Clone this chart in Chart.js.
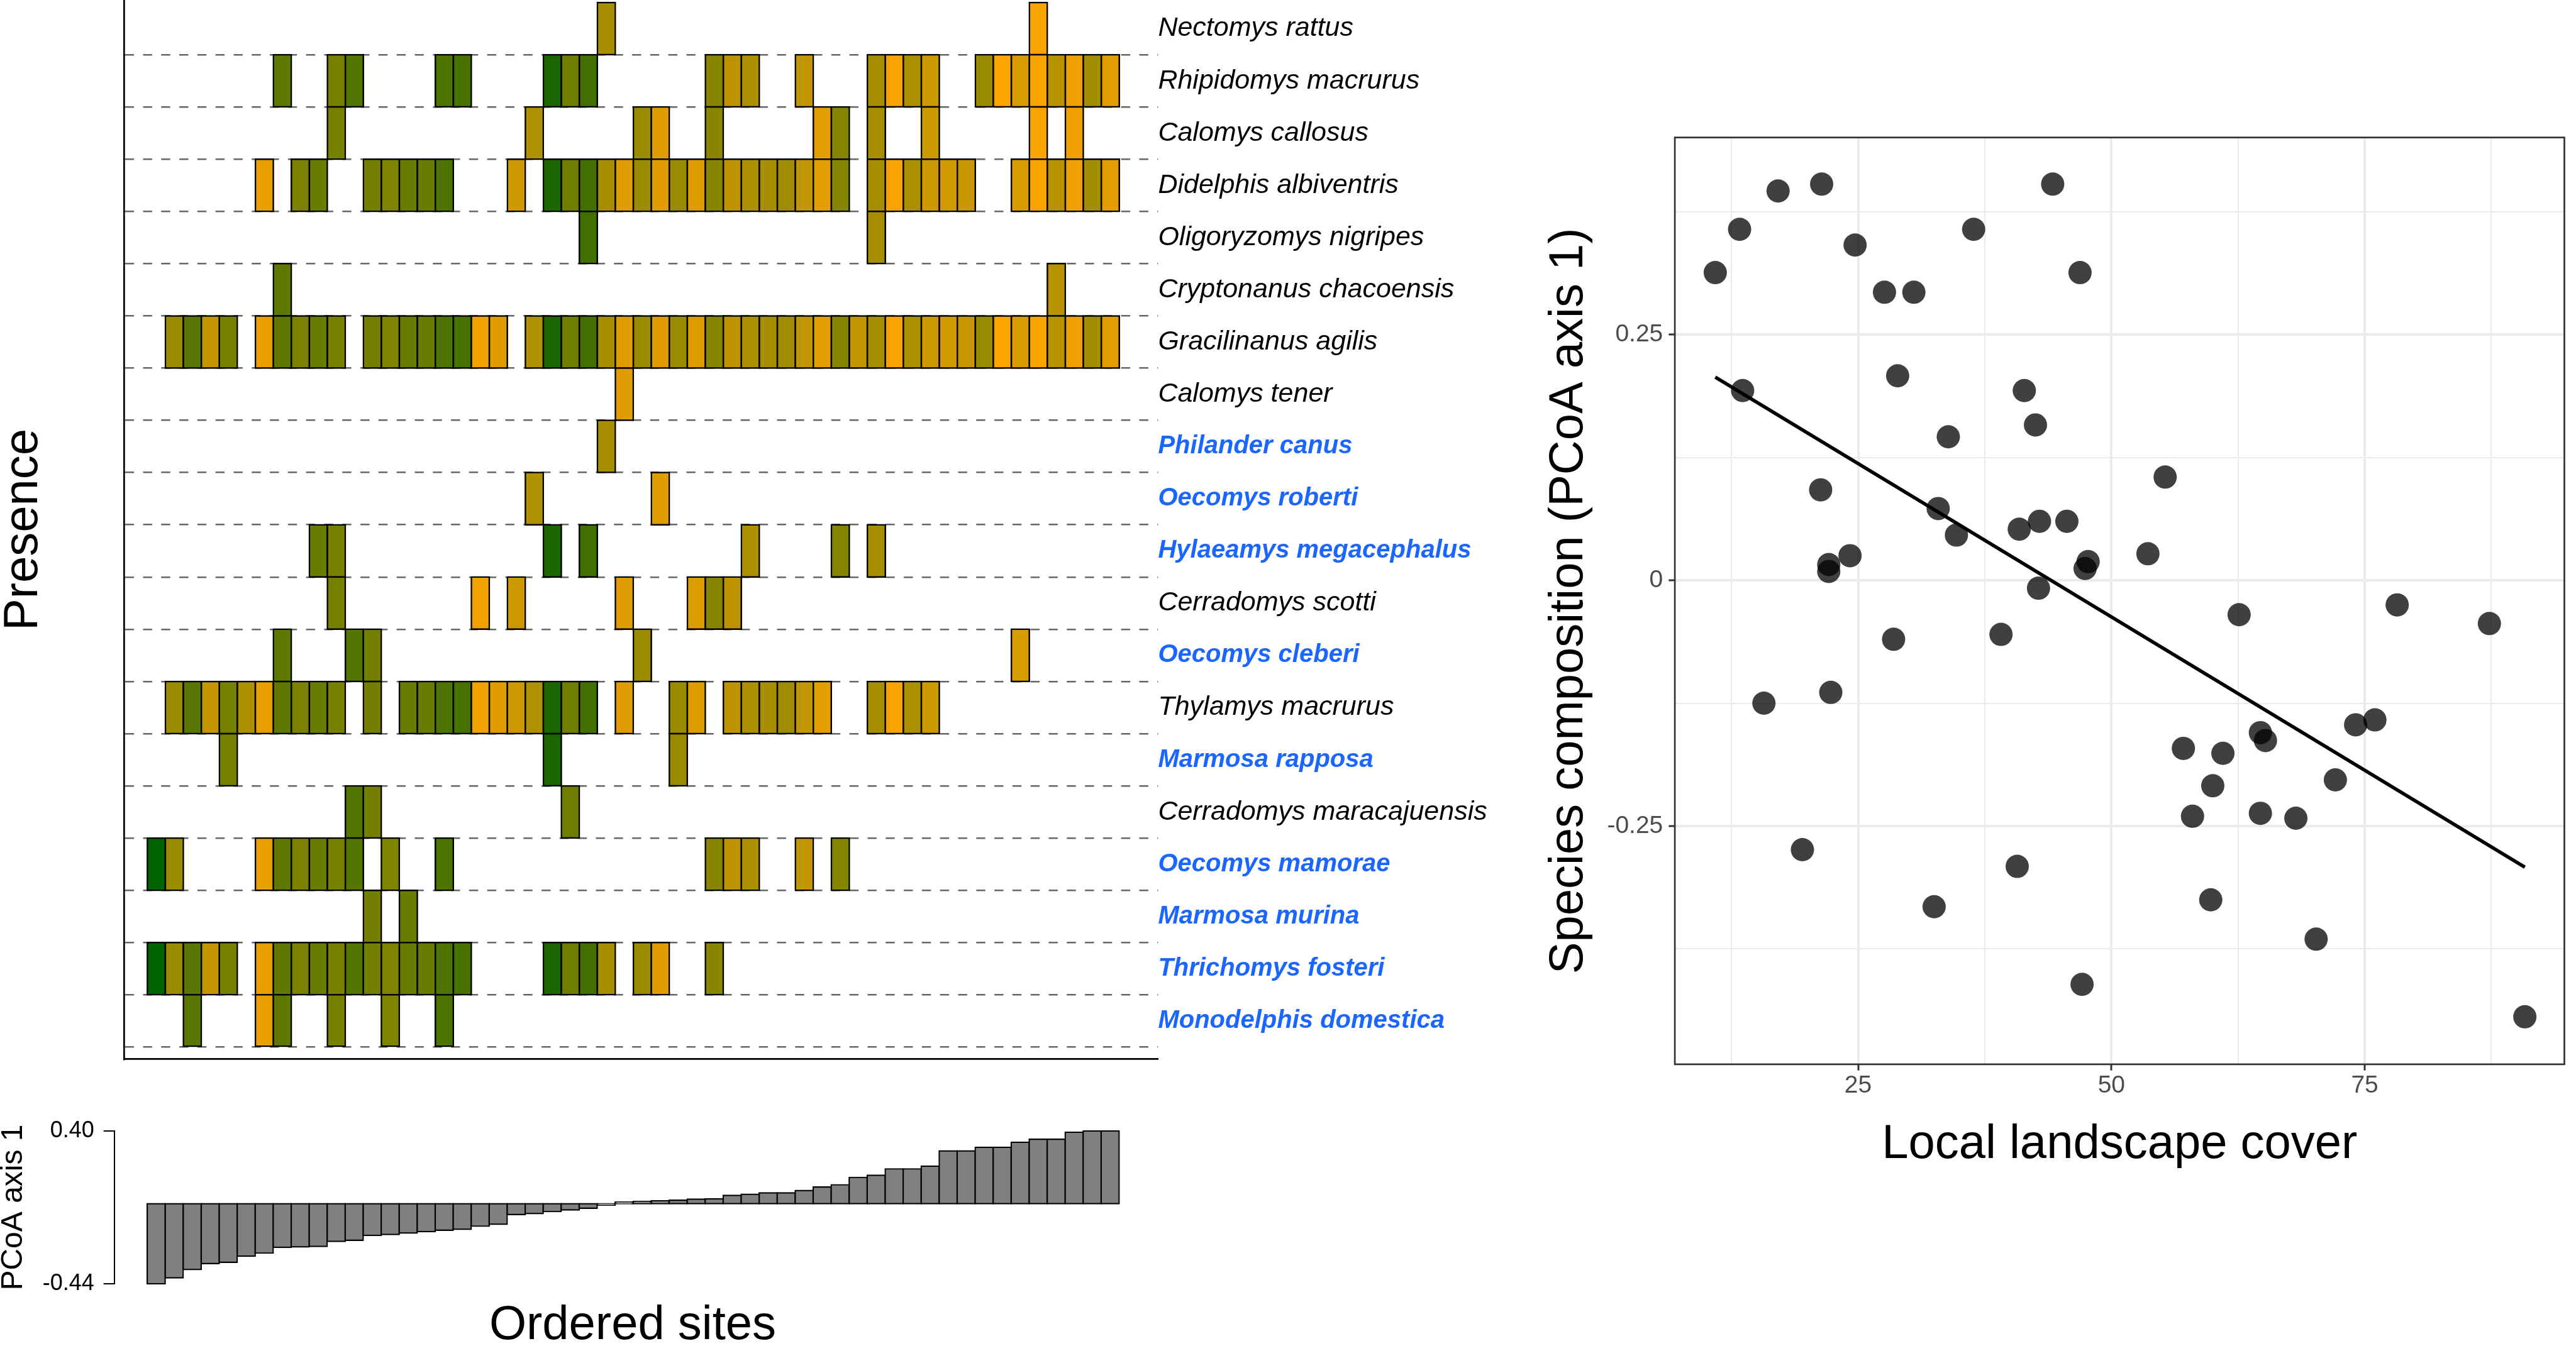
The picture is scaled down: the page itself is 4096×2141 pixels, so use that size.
<!DOCTYPE html>
<html>
<head>
<meta charset="utf-8">
<script src="https://cdn.jsdelivr.net/npm/chart.js@4.4.1/dist/chart.umd.min.js"></script>
<style>
  html, body { margin: 0; padding: 0; background: #fff; overflow: hidden; }
  #wrap { position: relative; width: 4096px; height: 2141px; }
  canvas { position: absolute; }
</style>
</head>
<body>
<div id="wrap">
  <canvas id="matrix" width="2450" height="1700" style="left:0;top:0"></canvas>
  <canvas id="pcoa" width="2000" height="401" style="left:0;top:1740px"></canvas>
  <canvas id="scatter" width="1646" height="2141" style="left:2450px;top:0"></canvas>
</div>
<script>
// species, top to bottom
const species = ["Nectomys rattus", "Rhipidomys macrurus", "Calomys callosus", "Didelphis albiventris",
  "Oligoryzomys nigripes", "Cryptonanus chacoensis", "Gracilinanus agilis", "Calomys tener",
  "Philander canus", "Oecomys roberti", "Hylaeamys megacephalus", "Cerradomys scotti",
  "Oecomys cleberi", "Thylamys macrurus", "Marmosa rapposa", "Cerradomys maracajuensis",
  "Oecomys mamorae", "Marmosa murina", "Thrichomys fosteri", "Monodelphis domestica"];
const highlighted = ["Philander canus", "Oecomys roberti", "Hylaeamys megacephalus", "Oecomys cleberi",
  "Marmosa rapposa", "Oecomys mamorae", "Marmosa murina", "Thrichomys fosteri", "Monodelphis domestica"];

// ordered sites where each species was recorded (same order as species)
const presence = [
  [25, 49],
  [7, 10, 11, 16, 17, 22, 23, 24, 31, 32, 33, 36, 40, 41, 42, 43, 46, 47, 48, 49, 50, 51, 52, 53],
  [10, 21, 27, 28, 31, 37, 38, 40, 43, 49, 51],
  [6, 8, 9, 12, 13, 14, 15, 16, 20, 22, 23, 24, 25, 26, 27, 28, 29, 30, 31, 32, 33, 34, 35, 36, 37, 38,
   40, 41, 42, 43, 44, 45, 48, 49, 50, 51, 52, 53],
  [24, 40],
  [7, 50],
  [1, 2, 3, 4, 6, 7, 8, 9, 10, 12, 13, 14, 15, 16, 17, 18, 19, 21, 22, 23, 24, 25, 26, 27, 28, 29, 30,
   31, 32, 33, 34, 35, 36, 37, 38, 39, 40, 41, 42, 43, 44, 45, 46, 47, 48, 49, 50, 51, 52, 53],
  [26],
  [25],
  [21, 28],
  [9, 10, 22, 24, 33, 38, 40],
  [10, 18, 20, 26, 30, 31, 32],
  [7, 11, 12, 27, 48],
  [1, 2, 3, 4, 5, 6, 7, 8, 9, 10, 12, 14, 15, 16, 17, 18, 19, 20, 21, 22, 23, 24, 26, 29, 30,
   32, 33, 34, 35, 36, 37, 40, 41, 42, 43],
  [4, 22, 29],
  [11, 12, 23],
  [0, 1, 6, 7, 8, 9, 10, 11, 13, 16, 31, 32, 33, 36, 38],
  [12, 14],
  [0, 1, 2, 3, 4, 6, 7, 8, 9, 10, 11, 12, 13, 14, 15, 16, 17, 22, 23, 24, 25, 27, 28, 31],
  [2, 6, 7, 10, 13, 16]
];

// per ordered site: PCoA axis 1 score and local landscape cover (%)
const pcoa = [-0.444, -0.411, -0.365, -0.332, -0.325, -0.291, -0.274, -0.242, -0.240, -0.237,
  -0.209, -0.203, -0.176, -0.171, -0.163, -0.155, -0.147, -0.142, -0.125, -0.114,
  -0.060, -0.055, -0.044, -0.035, -0.025, -0.008, 0.009, 0.012, 0.016, 0.019,
  0.025, 0.027, 0.046, 0.052, 0.060, 0.060, 0.073, 0.092, 0.105, 0.146,
  0.158, 0.193, 0.193, 0.208, 0.293, 0.293, 0.313, 0.313, 0.341, 0.357,
  0.357, 0.396, 0.403, 0.403];
const cover = [90.8, 47.1, 70.2, 32.5, 59.8, 40.7, 19.5, 68.2, 58.0, 64.7,
  60.0, 72.1, 61.0, 57.1, 65.2, 64.7, 74.1, 76.0, 15.7, 22.3,
  28.5, 39.1, 87.3, 62.6, 78.2, 42.8, 22.1, 47.4, 22.1, 47.7,
  24.2, 53.6, 34.7, 40.9, 42.9, 45.6, 32.9, 21.3, 55.3, 33.9,
  42.5, 13.6, 41.4, 28.9, 27.6, 30.5, 46.9, 10.9, 24.7, 13.3,
  36.4, 17.1, 44.2, 21.4];

const coverTicks = [25, 50, 75];
const compTicks = [-0.25, 0, 0.25];

const FONT = "'Liberation Sans', Arial, sans-serif";
const BLUE = "#1a66ff";
Chart.defaults.font.family = FONT;

// colour scale: orange (low cover) -> darkgreen (high cover), interpolated in Lab
function toLin(c) { c /= 255; return c <= 0.04045 ? c / 12.92 : Math.pow((c + 0.055) / 1.055, 2.4); }
function toSrgb(c) { c = c <= 0.0031308 ? 12.92 * c : 1.055 * Math.pow(c, 1 / 2.4) - 0.055; return Math.round(Math.max(0, Math.min(1, c)) * 255); }
function rgbToLab(rgb) {
  const [r, g, b] = rgb.map(toLin);
  const x = (0.4124 * r + 0.3576 * g + 0.1805 * b) / 0.95047;
  const y = 0.2126 * r + 0.7152 * g + 0.0722 * b;
  const z = (0.0193 * r + 0.1192 * g + 0.9505 * b) / 1.08883;
  const f = t => t > 0.008856 ? Math.cbrt(t) : 7.787 * t + 16 / 116;
  return [116 * f(y) - 16, 500 * (f(x) - f(y)), 200 * (f(y) - f(z))];
}
function labToRgb(lab) {
  const fy = (lab[0] + 16) / 116, fx = fy + lab[1] / 500, fz = fy - lab[2] / 200;
  const inv = t => t * t * t > 0.008856 ? t * t * t : (t - 16 / 116) / 7.787;
  const x = inv(fx) * 0.95047, y = inv(fy), z = inv(fz) * 1.08883;
  const r = 3.2406 * x - 1.5372 * y - 0.4986 * z;
  const g = -0.9689 * x + 1.8758 * y + 0.0415 * z;
  const b = 0.0557 * x - 0.2040 * y + 1.0570 * z;
  return "rgb(" + toSrgb(r) + "," + toSrgb(g) + "," + toSrgb(b) + ")";
}
const lowLab = rgbToLab([255, 165, 0]);
const highLab = rgbToLab([0, 100, 0]);
const coverMin = Math.min(...cover), coverMax = Math.max(...cover);
function coverColor(v) {
  const t = (v - coverMin) / (coverMax - coverMin);
  return labToRgb(lowLab.map((l, i) => l + (highLab[i] - l) * t));
}

const nRows = species.length;
const siteCentres = s => { s.ticks = pcoa.map((_, k) => ({ value: k + 0.5 })); };
const rowName = v => species[Math.round(nRows - 0.5 - v)];
const isBlue = ctx => !!ctx.tick && highlighted.includes(rowName(ctx.tick.value));

// ---- presence matrix ----
const cells = [];
presence.forEach((sites, r) => {
  const base = nRows - 1 - r;
  sites.forEach(k => cells.push({ x: k + 0.5, y: [base, base + 1], site: k }));
});

const rowMin = -0.234, rowMax = 20.048;
new Chart(document.getElementById("matrix"), {
  type: "bar",
  data: {
    datasets: [{
      data: cells,
      backgroundColor: ctx => ctx.raw ? coverColor(cover[ctx.raw.site]) : "#888",
      borderColor: "#000",
      borderWidth: 2.5,
      inflateAmount: 1.25,
      borderSkipped: false,
      categoryPercentage: 1,
      barPercentage: 1,
      clip: false
    }]
  },
  options: {
    responsive: false, animation: false, events: [],
    layout: { padding: 0 },
    plugins: { legend: { display: false }, tooltip: { enabled: false } },
    scales: {
      x: {
        type: "linear", min: -0.768, max: 55.62,
        afterBuildTicks: siteCentres,
        ticks: { display: false },
        grid: { display: false },
        border: { display: true, color: "#000", width: 2.7 },
        afterFit: s => { s.height = 15.2; }
      },
      y: {
        type: "linear", position: "left", min: rowMin, max: rowMax,
        afterBuildTicks: s => { s.ticks = species.map((_, i) => ({ value: i })); },
        ticks: { display: false },
        grid: { color: "#666", lineWidth: 2.4, drawTicks: false },
        border: { display: true, color: "#000", width: 2.7, dash: [14.4, 14.4] },
        title: { display: true, text: "Presence", color: "#000", padding: 0,
          font: { family: FONT, size: 76, lineHeight: 1 } },
        afterFit: s => { s.width = 197.1; s.paddingTop = 0; s.paddingBottom = 0; }
      },
      names: {
        type: "linear", position: "right", display: true, min: rowMin, max: rowMax,
        afterBuildTicks: s => { s.ticks = species.map((_, i) => ({ value: nRows - 0.5 - i })); },
        ticks: {
          autoSkip: false, padding: 0,
          callback: v => rowName(v),
          color: ctx => isBlue(ctx) ? BLUE : "#000",
          font: ctx => isBlue(ctx)
            ? { family: FONT, size: 40, style: "italic", weight: "bold" }
            : { family: FONT, size: 43, style: "italic", weight: "normal" }
        },
        grid: { display: false, drawTicks: false },
        border: { display: false },
        afterFit: s => { s.width = 608.6; s.paddingTop = 0; s.paddingBottom = 0; }
      }
    }
  }
});

// ---- ordered PCoA scores ----
const pcoaTicks = [Math.min(...pcoa), Math.max(...pcoa)];
new Chart(document.getElementById("pcoa"), {
  type: "bar",
  data: {
    datasets: [{
      data: pcoa.map((v, k) => ({ x: k + 0.5, y: v })),
      backgroundColor: "#808080",
      borderColor: "#000",
      borderWidth: 2.2,
      inflateAmount: 1.1,
      borderSkipped: false,
      categoryPercentage: 1,
      barPercentage: 1,
      clip: false
    }]
  },
  options: {
    responsive: false, animation: false, events: [],
    layout: { padding: { top: 59, right: 170.3, bottom: 0, left: 0 } },
    plugins: { legend: { display: false }, tooltip: { enabled: false } },
    scales: {
      x: {
        type: "linear", min: -1.276, max: 55.22,
        afterBuildTicks: siteCentres,
        ticks: { display: false },
        grid: { display: false },
        border: { display: false },
        title: { display: true, text: "Ordered sites", color: "#000", padding: { top: 0, bottom: -6 },
          font: { family: FONT, size: 76, lineHeight: 1 } },
        afterFit: s => { s.height = 99; }
      },
      y: {
        type: "linear", min: pcoaTicks[0], max: pcoaTicks[1],
        afterBuildTicks: s => { s.ticks = pcoaTicks.map(v => ({ value: v })); },
        ticks: { callback: v => v.toFixed(2), color: "#000", padding: 15, font: { family: FONT, size: 36 } },
        grid: { drawOnChartArea: false, drawTicks: true, tickLength: 17.6, tickColor: "#000", tickWidth: 2, lineWidth: 2 },
        border: { display: true, color: "#000", width: 2 },
        title: { display: true, text: "PCoA axis 1", color: "#000", padding: { top: -2, bottom: 0 },
          font: { family: FONT, size: 48, lineHeight: 1 } },
        afterFit: s => { s.width = 182.3; s.paddingTop = 0; s.paddingBottom = 0; }
      }
    }
  }
});

// ---- composition vs cover ----
function lmLine(xs, ys) {
  const n = xs.length;
  const mx = xs.reduce((a, b) => a + b, 0) / n;
  const my = ys.reduce((a, b) => a + b, 0) / n;
  let sxy = 0, sxx = 0;
  for (let i = 0; i < n; i++) { sxy += (xs[i] - mx) * (ys[i] - my); sxx += (xs[i] - mx) ** 2; }
  const slope = sxy / sxx, icpt = my - slope * mx;
  const x0 = Math.min(...xs), x1 = Math.max(...xs);
  return [{ x: x0, y: icpt + slope * x0 }, { x: x1, y: icpt + slope * x1 }];
}
const halfSteps = ticks => {
  const step = ticks[1] - ticks[0];
  const out = [ticks[0] - step / 2];
  ticks.forEach(t => { out.push(t, t + step / 2); });
  return out;
};
const isMajor = (list, ctx) => !!ctx.tick && list.some(t => Math.abs(t - ctx.tick.value) < 1e-9);

const panelBorder = {
  id: "panelBorder",
  afterDraw(chart) {
    const { ctx, chartArea: a } = chart;
    ctx.save();
    ctx.strokeStyle = "#333";
    ctx.lineWidth = 2.7;
    ctx.strokeRect(a.left, a.top, a.right - a.left, a.bottom - a.top);
    ctx.restore();
  }
};

new Chart(document.getElementById("scatter"), {
  type: "scatter",
  data: {
    datasets: [
      { type: "line", data: lmLine(cover, pcoa), borderColor: "#000", borderWidth: 5.5, pointRadius: 0, fill: false, order: 0 },
      { data: pcoa.map((v, k) => ({ x: cover[k], y: v })), backgroundColor: "rgba(0,0,0,0.75)",
        pointRadius: 18.5, pointBorderWidth: 0, order: 1 }
    ]
  },
  options: {
    responsive: false, animation: false, events: [],
    layout: { padding: { top: 218.7, right: 9.1, bottom: 282, left: 0 } },
    plugins: { legend: { display: false }, tooltip: { enabled: false } },
    scales: {
      x: {
        type: "linear", min: 6.91, max: 94.7,
        afterBuildTicks: s => { s.ticks = halfSteps(coverTicks).map(v => ({ value: v })); },
        ticks: { callback: v => coverTicks.includes(v) ? String(v) : "", color: "#4d4d4d", padding: 1,
          font: { family: FONT, size: 39 } },
        grid: {
          color: "#ebebeb",
          lineWidth: ctx => isMajor(coverTicks, ctx) ? 4 : 2,
          tickColor: ctx => isMajor(coverTicks, ctx) ? "#333" : "rgba(0,0,0,0)",
          tickLength: 9.8, tickWidth: 3
        },
        border: { display: false },
        title: { display: true, text: "Local landscape cover", color: "#000", padding: 0,
          font: { family: FONT, size: 76, lineHeight: 1 } },
        afterFit: s => { s.height = 166.1; }
      },
      y: {
        type: "linear", min: -0.4923, max: 0.4504,
        afterBuildTicks: s => { s.ticks = halfSteps(compTicks).map(v => ({ value: v })); },
        ticks: { callback: v => compTicks.includes(v) ? String(v) : "", color: "#4d4d4d", padding: 9,
          font: { family: FONT, size: 39 } },
        grid: {
          color: "#ebebeb",
          lineWidth: ctx => isMajor(compTicks, ctx) ? 4 : 2,
          tickColor: ctx => isMajor(compTicks, ctx) ? "#333" : "rgba(0,0,0,0)",
          tickLength: 9.8, tickWidth: 3
        },
        border: { display: false },
        title: { display: true, text: "Species composition (PCoA axis 1)", color: "#000", padding: { top: 7, bottom: 0 },
          font: { family: FONT, size: 76, lineHeight: 1 } },
        afterFit: s => { s.width = 213.1; }
      }
    }
  },
  plugins: [panelBorder]
});
</script>
</body>
</html>
